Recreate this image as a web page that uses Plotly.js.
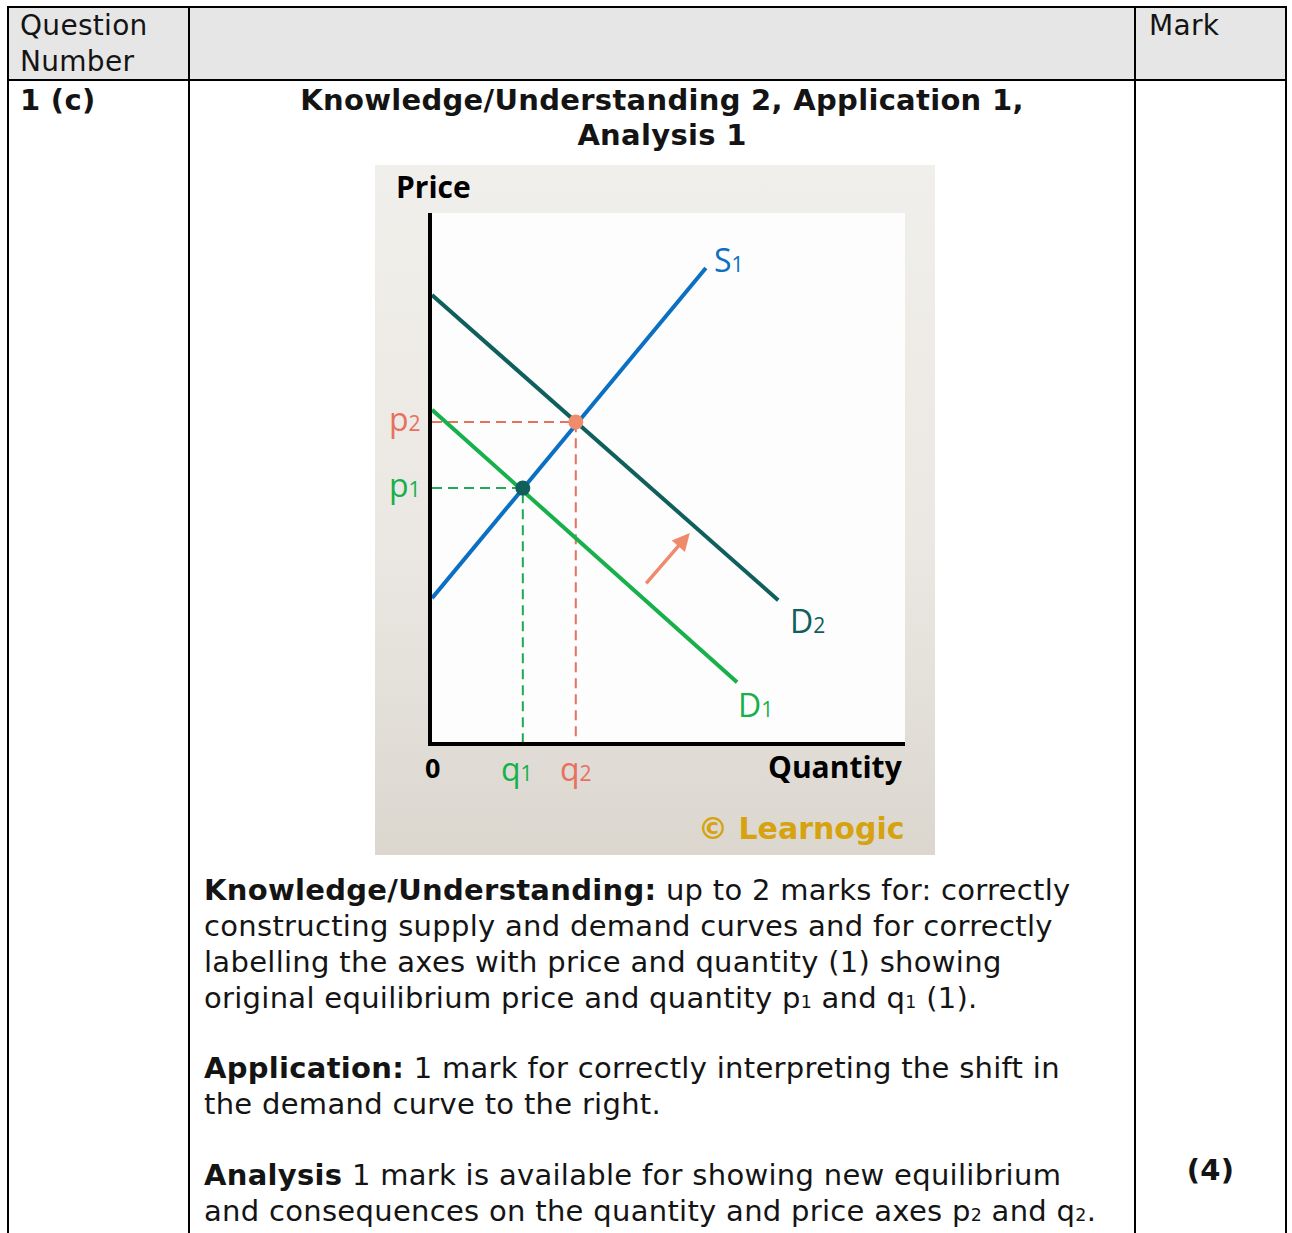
<!DOCTYPE html>
<html lang="en">
<head>
    <meta charset="UTF-8">
    <title>Question 1 (c) mark scheme - demand shift</title>
    <script src="https://cdn.plot.ly/plotly-3.0.1.min.js"></script>
    <style>
        body {
            margin: 0;
            background: #ffffff;
            font-family: "DejaVu Sans", Verdana, sans-serif;
            color: #141414;
            width: 1292px;
            height: 1233px;
            overflow: hidden;
            position: relative;
        }
        .line { position: absolute; background: #000; }
        .txt {
            position: absolute;
            font-size: 29px;
            letter-spacing: 0.3px;
            line-height: 36px;
            white-space: nowrap;
        }
        .head { font-size: 28px; letter-spacing: 0.3px; }
        .small { font-size: 60%; }
        #chart {
            position: absolute;
            left: 375px;
            top: 165px;
            width: 560px;
            height: 690px;
            background: linear-gradient(180deg, #f1efeb 0%, #ebe8e3 55%, #dbd7cf 100%);
        }
    </style>
</head>
<body>
    <!-- table frame -->
    <div style="position:absolute;left:7px;top:7px;width:1279px;height:73px;background:#e6e6e6;"></div>
    <div class="line" style="left:7px;top:6px;width:1280px;height:2px;"></div>
    <div class="line" style="left:7px;top:79px;width:1280px;height:2px;"></div>
    <div class="line" style="left:7px;top:6px;width:2px;height:1240px;"></div>
    <div class="line" style="left:188px;top:6px;width:2px;height:1240px;"></div>
    <div class="line" style="left:1134px;top:6px;width:2px;height:1240px;"></div>
    <div class="line" style="left:1285px;top:6px;width:2px;height:1240px;"></div>

    <div class="txt head" style="left:20px;top:8px;">Question<br>Number</div>
    <div class="txt head" style="left:1149px;top:8px;">Mark</div>
    <div class="txt" style="left:20px;top:82px;font-weight:bold;">1 (c)</div>
    <div class="txt" style="left:190px;width:944px;top:83px;line-height:35px;text-align:center;font-weight:bold;">Knowledge/Understanding 2, Application 1,<br>Analysis 1</div>

    <div id="chart"></div>

    <div class="txt" style="left:204px;top:872px;">
        <b>Knowledge/Understanding:</b> up to 2 marks for: correctly<br>
        constructing supply and demand curves and for correctly<br>
        labelling the axes with price and quantity (1) showing<br>
        original equilibrium price and quantity p<span class="small">1</span> and q<span class="small">1</span> (1).
    </div>
    <div class="txt" style="left:204px;top:1050px;">
        <b>Application:</b> 1 mark for correctly interpreting the shift in<br>
        the demand curve to the right.
    </div>
    <div class="txt" style="left:204px;top:1157px;">
        <b>Analysis</b> 1 mark is available for showing new equilibrium<br>
        and consequences on the quantity and price axes p<span class="small">2</span> and q<span class="small">2</span>.
    </div>
    <div class="txt" style="left:1136px;width:149px;top:1152px;text-align:center;font-weight:bold;">(4)</div>

    <script>
        // curve end points (quantity, price)
        const d1X = [0, 6.45];
        const d1Y = [6.28, 1.13];
        const d2X = [0, 7.32];
        const d2Y = [8.45, 2.68];
        const s1X = [0, 5.79];
        const s1Y = [2.72, 8.96];

        // equilibria
        const eq1 = [1.92, 4.80];
        const eq2 = [3.04, 6.05];

        // shift arrow (tail, head)
        const shiftTail = [4.50, 2.97];
        const shiftHead = [5.45, 3.95];

        const xMax = 10, yMax = 10;

        const blue = '#0b6fc4';
        const teal = '#0f5f5c';
        const green = '#17b04b';
        const salmon = '#e8705e';
        const lblFont = 'Open Sans, Noto Sans, sans-serif';

        const data = [
            {
                x: [0, eq2[0], eq2[0]], y: [eq2[1], eq2[1], 0],
                mode: 'lines', line: {color: salmon, width: 2, dash: '10px,6px'}, hoverinfo: 'skip'
            },
            {
                x: [0, eq1[0], eq1[0]], y: [eq1[1], eq1[1], 0],
                mode: 'lines', line: {color: '#1fa857', width: 2, dash: '10px,6px'}, hoverinfo: 'skip'
            },
            { x: d2X, y: d2Y, mode: 'lines', line: {color: teal, width: 4} },
            { x: d1X, y: d1Y, mode: 'lines', line: {color: green, width: 4} },
            { x: s1X, y: s1Y, mode: 'lines', line: {color: blue, width: 4} },
            {
                x: [eq2[0], eq1[0]], y: [eq2[1], eq1[1]],
                mode: 'markers', marker: {color: ['#f08c6c', teal], size: 15}
            }
        ];

        function sub(base, n) {
            return base + '<span style="font-size:21px">' + n + '</span>';
        }

        // labels that sit outside the axis range go on paper coordinates
        function onPaper(x, y, text, opts) {
            return Object.assign({xref: 'paper', yref: 'paper', x: x / xMax, y: y / yMax, text: text,
                xanchor: 'center', yanchor: 'middle'}, opts);
        }

        const annotations = [
            {x: 5.92, y: 9.13, text: sub('S', 1), xanchor: 'left', yanchor: 'middle', font: {color: blue, size: 32, family: lblFont}},
            {x: 7.52, y: 2.30, text: sub('D', 2), xanchor: 'left', yanchor: 'middle', font: {color: teal, size: 32, family: lblFont}},
            {x: 6.42, y: 0.70, text: sub('D', 1), xanchor: 'left', yanchor: 'middle', font: {color: green, size: 32, family: lblFont}},
            onPaper(-0.20, eq2[1] + 0.07, sub('p', 2), {xanchor: 'right', font: {color: salmon, size: 32, family: lblFont}}),
            onPaper(-0.20, eq1[1] + 0.07, sub('p', 1), {xanchor: 'right', font: {color: green, size: 32, family: lblFont}}),
            onPaper(eq1[0] - 0.12, -0.50, sub('q', 1), {font: {color: green, size: 32, family: lblFont}}),
            onPaper(eq2[0], -0.50, sub('q', 2), {font: {color: salmon, size: 32, family: lblFont}}),
            onPaper(0, -0.49, '<b>0</b>', {font: {color: '#000', size: 27, family: lblFont}}),
            onPaper(xMax, -0.47, '<b>Quantity</b>', {xanchor: 'right', font: {color: '#000', size: 30, family: lblFont}}),
            onPaper(-0.80, 10.51, '<b>Price</b>', {xanchor: 'left', font: {color: '#000', size: 30, family: lblFont}}),
            onPaper(xMax + 0.03, -1.63, '<b>© Learnogic</b>', {xanchor: 'right',
                font: {color: '#d6a20f', size: 30, family: 'DejaVu Sans, sans-serif'}}),
            {x: shiftHead[0], y: shiftHead[1], ax: shiftTail[0], ay: shiftTail[1], axref: 'x', ayref: 'y',
             text: '', showarrow: true, arrowhead: 2, arrowsize: 1, arrowwidth: 3.5, arrowcolor: '#f08a6c'}
        ].map(a => Object.assign({showarrow: false}, a));

        const layout = {
            width: 560,
            height: 690,
            margin: {l: 57, r: 30, t: 48, b: 113},
            paper_bgcolor: 'rgba(0,0,0,0)',
            plot_bgcolor: '#fdfdfd',
            showlegend: false,
            xaxis: {
                range: [0, xMax], showgrid: false, zeroline: false, showticklabels: false, ticks: '',
                showline: true, linecolor: '#000', linewidth: 4, fixedrange: true
            },
            yaxis: {
                range: [0, yMax], showgrid: false, zeroline: false, showticklabels: false, ticks: '',
                showline: true, linecolor: '#000', linewidth: 4, fixedrange: true
            },
            annotations: annotations
        };

        Plotly.newPlot('chart', data, layout, {staticPlot: true});
    </script>
</body>
</html>
